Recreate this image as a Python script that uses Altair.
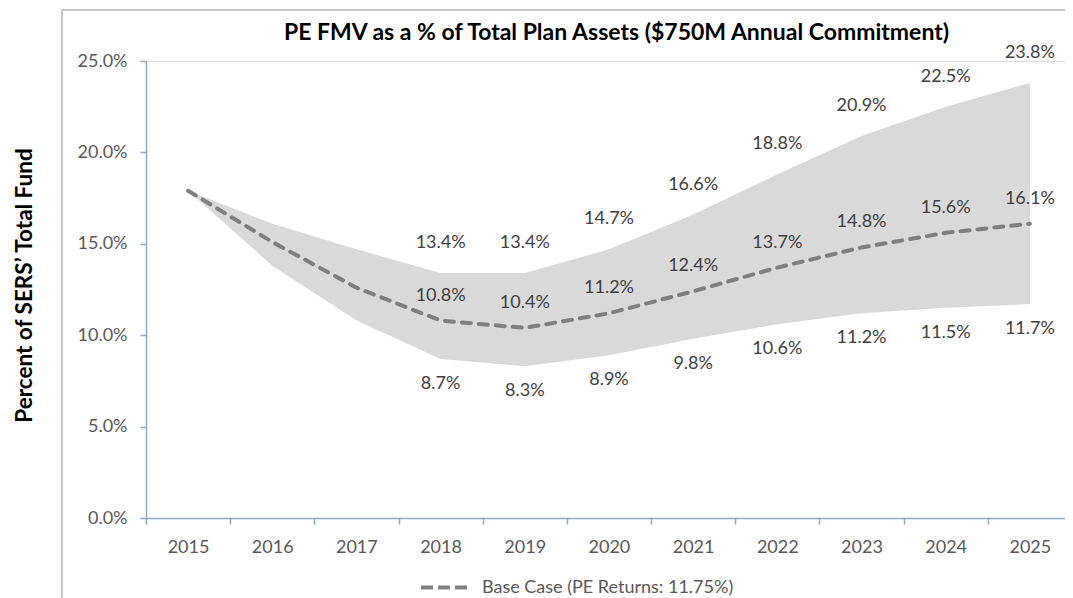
import altair as alt
import pandas as pd

years = [2015, 2016, 2017, 2018, 2019, 2020, 2021, 2022, 2023, 2024, 2025]
base_case = [17.9, 15.1, 12.6, 10.8, 10.4, 11.2, 12.4, 13.7, 14.8, 15.6, 16.1]
upper = [17.9, 16.1, 14.7, 13.4, 13.4, 14.7, 16.6, 18.8, 20.9, 22.5, 23.8]
lower = [17.9, 13.8, 10.8, 8.7, 8.3, 8.9, 9.8, 10.6, 11.2, 11.5, 11.7]
series_name = "Base Case (PE Returns: 11.75%)"
title_text = "PE FMV as a % of Total Plan Assets ($750M Annual Commitment)"
y_title = "Percent of SERS\u2019 Total Fund"
y_ticks = [0, 5, 10, 15, 20, 25]
x_ticks = [2014.5, 2015.5, 2016.5, 2017.5, 2018.5, 2019.5, 2020.5, 2021.5,
           2022.5, 2023.5, 2024.5, 2025.5]

df = pd.DataFrame({
    "year": years,
    "base": base_case,
    "upper": upper,
    "lower": lower,
    "series": [series_name] * len(years),
})

FONT = "Lato"
AXIS_COLOR = "#8eaac2"
LABEL_SIZE = 18

x_scale = alt.Scale(domain=[2014.5, 2025.5], range=[0, 926], nice=False, zero=False)
y_scale = alt.Scale(domain=[0, 25], nice=False)

x_axis = alt.Axis(
    values=x_ticks, title=None, grid=False,
    labelExpr="datum.value < 2025 ? format(datum.value + 0.5, 'd') : ''",
    labelOffset=42, labelFlush=False, labelOverlap=False,
    tickSize=6, tickColor=AXIS_COLOR, domainColor=AXIS_COLOR,
    domainWidth=1.5, tickWidth=1.5, labelPadding=14,
    labelFont=FONT, labelFontSize=LABEL_SIZE, labelColor="#595959",
)
y_axis = alt.Axis(
    values=y_ticks, grid=False, title=y_title,
    labelExpr="format(datum.value, '.1f') + '%'",
    tickSize=6, tickColor=AXIS_COLOR, domainColor=AXIS_COLOR,
    domainWidth=1.5, tickWidth=1.5, labelPadding=13,
    labelFont=FONT, labelFontSize=LABEL_SIZE, labelColor="#595959",
    titleFont=FONT, titleFontSize=22.5, titleFontWeight="bold", titleColor="#000000",
    titleX=-122, titleY=224, titleAngle=270, titleBaseline="middle", titleAlign="center",
)

base = alt.Chart(df)

band = base.mark_area(color="#d9d9d9", opacity=1).encode(
    x=alt.X("year:Q", scale=x_scale, axis=x_axis),
    y=alt.Y("lower:Q", scale=y_scale, axis=y_axis),
    y2="upper:Q",
)

line = base.mark_line(strokeWidth=4, strokeDash=[9, 8], strokeCap="round").encode(
    x=alt.X("year:Q", scale=x_scale),
    y=alt.Y("base:Q", scale=y_scale),
    color=alt.Color(
        "series:N",
        scale=alt.Scale(range=["#7f7f7f"]),
        legend=alt.Legend(
            title=None, orient="none", legendX=273, legendY=501,
            symbolType="stroke", symbolSize=2200, symbolStrokeWidth=4,
            symbolDash=[12, 5], labelFont=FONT, labelFontSize=LABEL_SIZE,
            labelColor="#595959", labelOffset=12, labelLimit=0,
        ),
    ),
)

labels_src = base.transform_filter("datum.year >= 2018")

upper_labels = labels_src.mark_text(
    font=FONT, fontSize=LABEL_SIZE, color="#404040", dy=-30, baseline="middle"
).encode(
    x=alt.X("year:Q", scale=x_scale),
    y=alt.Y("upper:Q", scale=y_scale),
).transform_calculate(lbl="format(datum.upper, '.1f') + '%'").encode(text="lbl:N")

mid_labels = labels_src.mark_text(
    font=FONT, fontSize=LABEL_SIZE, color="#404040", dy=-25, baseline="middle"
).encode(
    x=alt.X("year:Q", scale=x_scale),
    y=alt.Y("base:Q", scale=y_scale),
).transform_calculate(lbl="format(datum.base, '.1f') + '%'").encode(text="lbl:N")

lower_labels = labels_src.mark_text(
    font=FONT, fontSize=LABEL_SIZE, color="#404040", dy=25, baseline="middle"
).encode(
    x=alt.X("year:Q", scale=x_scale),
    y=alt.Y("lower:Q", scale=y_scale),
).transform_calculate(lbl="format(datum.lower, '.1f') + '%'").encode(text="lbl:N")

border_left = base.mark_rule(color="#c8c8c8", strokeWidth=2).encode(
    x=alt.value(-84), y=alt.value(-51), y2=alt.value(560)
)
border_top = base.mark_rule(color="#c8c8c8", strokeWidth=2).encode(
    x=alt.value(-84), x2=alt.value(940), y=alt.value(-51)
)

chart = alt.layer(
    border_left, border_top, band, line, upper_labels, mid_labels, lower_labels
).properties(
    width=919,
    height=457,
    title=alt.TitleParams(
        text=title_text, font=FONT, fontSize=23, fontWeight="bold",
        color="#000000", anchor="middle", offset=0, dx=11, dy=59,
        baseline="bottom",
    ),
    padding={"left": 138, "top": 53, "right": 0, "bottom": 80},
    autosize=alt.AutoSizeParams(type="none"),
).configure_view(stroke=None).configure(background="white")

chart.save("out.html", embed_options={"renderer": "svg", "actions": False})
